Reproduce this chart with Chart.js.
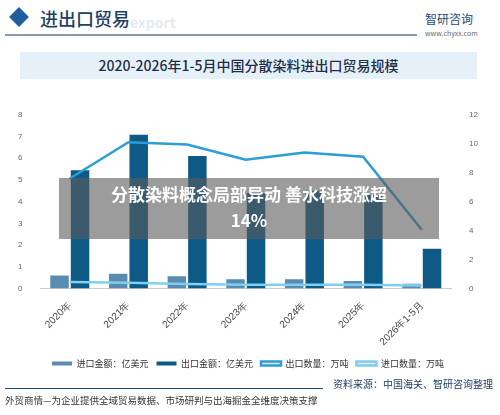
<!DOCTYPE html>
<html><head><meta charset="utf-8">
<script src="https://cdn.jsdelivr.net/npm/chart.js"></script>
<style>
body{margin:0;width:500px;height:415px;background:#fff;font-family:"Noto Sans CJK SC",sans-serif;position:relative;overflow:hidden}
.a{position:absolute}
</style></head><body>
<div class="a" style="left:12px;top:10px;width:14px;height:14px;background:#1f5e9c;transform:rotate(45deg)"></div>
<div class="a" style="left:40px;top:5px;font-size:18px;color:#1f3f66;font-family:'Noto Sans CJK SC';font-weight:500">进出口贸易</div>
<div class="a" style="left:130px;top:12px;font-size:14px;color:#e6eaef;font-weight:bold">export</div>
<div class="a" style="left:5px;top:34px;width:412px;height:2px;background:#8a9bb0"></div>
<div class="a" style="left:425px;top:10px;font-size:12px;color:#1f4a7a">智研咨询</div>
<div class="a" style="left:425px;top:28px;font-size:7px;color:#666">www.chyxx.com</div>
<div class="a" style="left:20px;top:52px;width:457px;height:27px;background:#e6f0f9;text-align:center;font-size:14px;line-height:27px;color:#1f2f4a;font-weight:500">2020-2026年1-5月中国分散染料进出口贸易规模</div>
<div class="a" style="left:0;top:100px;width:500px;height:278px"><canvas id="c"></canvas></div>
<div class="a" style="left:333px;top:376px;font-size:10px;color:#1f3f66">资料来源：中国海关、智研咨询整理</div>
<div class="a" style="left:5px;top:388px;width:318px;height:1px;background:#1f4a7a"></div>
<div class="a" style="left:5px;top:393px;font-size:9.5px;color:#333">外贸商情—为企业提供全域贸易数据、市场研判与出海掘金全维度决策支撑</div>
<div class="a" style="left:59px;top:178px;width:380px;height:58px;background:rgba(90,90,90,0.6);color:#fff;text-align:center;font-size:17px;font-weight:bold;line-height:26px;padding-top:3px">分散染料概念局部异动 善水科技涨超<br>14%</div>
<script>
const categories=["2020年","2021年","2022年","2023年","2024年","2025年","2026年1-5月"];
const importValue=[0.6,0.68,0.56,0.42,0.42,0.34,0.22];
const exportValue=[5.44,7.08,6.1,4.4,4.5,4.3,1.83];
const exportQty=[7.6,10.1,9.95,8.9,9.4,9.1,4.05];
const importQty=[0.45,0.4,0.3,0.25,0.25,0.25,0.2];
new Chart(document.getElementById('c'),{
data:{labels:categories,datasets:[
{type:'line',label:'出口数量：万吨',data:exportQty,yAxisID:'y1',borderColor:'#2a9fd6',borderWidth:2.5,pointRadius:0,tension:0,order:0},
{type:'line',label:'进口数量：万吨',data:importQty,yAxisID:'y1',borderColor:'#7fd0f0',borderWidth:2.5,pointRadius:0,tension:0,order:0},
{type:'bar',label:'进口金额：亿美元',data:importValue,yAxisID:'y',backgroundColor:'#5a8bb0',categoryPercentage:0.7,barPercentage:0.9,order:1},
{type:'bar',label:'出口金额：亿美元',data:exportValue,yAxisID:'y',backgroundColor:'#0d5a86',categoryPercentage:0.7,barPercentage:0.9,order:1}
]},
options:{responsive:true,maintainAspectRatio:false,animation:false,
layout:{padding:{left:8,right:12,top:11}},
plugins:{legend:{position:'bottom',labels:{boxWidth:20,boxHeight:4,font:{size:9,family:'Noto Sans CJK SC'},color:'#333',padding:8,
 sort:(a,b)=>[2,3,0,1].indexOf(a.datasetIndex)-[2,3,0,1].indexOf(b.datasetIndex)}},tooltip:{enabled:false}},
scales:{
x:{grid:{display:false},border:{color:'#ccc'},ticks:{maxRotation:45,minRotation:45,font:{size:10},color:'#444'}},
y:{min:0,max:8,ticks:{stepSize:1,font:{size:8},color:'#666',padding:10},grid:{display:false},border:{display:false}},
y1:{position:'right',min:0,max:12,ticks:{stepSize:2,font:{size:8},color:'#666',padding:10},grid:{display:false},border:{display:false}}
}}});
</script></body></html>
